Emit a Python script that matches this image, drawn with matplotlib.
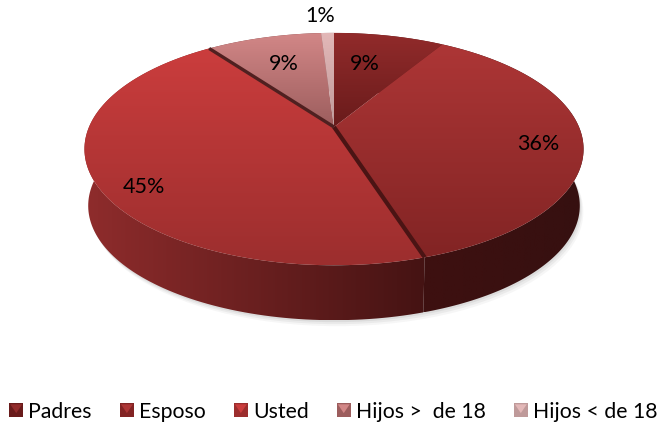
import numpy as np
import matplotlib
matplotlib.use('Agg')
import matplotlib.pyplot as plt
from matplotlib.colors import LinearSegmentedColormap
from matplotlib.legend_handler import HandlerBase
from matplotlib.patches import Polygon, Rectangle

plt.rcParams['font.family'] = ['Lato', 'DejaVu Sans']

categories = ['Padres', 'Esposo', 'Usted', 'Hijos >  de 18', 'Hijos < de 18']
# shares as they look in the picture; the printed labels are the rounded ones
share = [8.6, 36.5, 44.9, 9, 1]
percent_labels = ['9%', '36%', '45%', '9%', '1%']

top_light = ['#922b2b', '#ad3636', '#cb3d3d', '#d28787', '#e3b8b8']
top_dark = ['#691b1b', '#822424', '#9c2e2e', '#9c5d5d', '#bf9a9a']
side_left = ['#5a1a1a', '#3e1010', '#8f2c2c', '#7a4040', '#8a6060']
side_right = ['#5a1a1a', '#361010', '#451313', '#7a4040', '#8a6060']
label_pos = [(365, 64), (538, 144), (144, 187), (284, 64), (320, 16)]

# perspective of the tilted disc, in pixels
cx, cy = 334, 127
a, b, k = 245, 112, 0.19
depth, shrink = 57, 0.985


def rim(frac0, frac1, scale=1.0, dy=0):
    ang = np.radians(np.linspace(frac0, frac1, 120) * 3.6)
    u, v = np.sin(ang), np.cos(ang)
    w = 1 + k * v
    return np.column_stack([cx + scale * a * u / w, cy + dy - scale * b * v / w])


def gradient(ax, clip, c0, c1, vertical, zorder):
    xy = clip.get_xy()
    x0, x1, y0, y1 = xy[:, 0].min(), xy[:, 0].max(), xy[:, 1].min(), xy[:, 1].max()
    cmap = LinearSegmentedColormap.from_list('g', [c0, c1])
    ramp = np.linspace(0, 1, 256)
    ramp = ramp.reshape(-1, 1) if vertical else ramp.reshape(1, -1)
    ax.add_patch(clip)
    clip.set(facecolor='none', edgecolor='none', zorder=zorder)
    im = ax.imshow(ramp, cmap=cmap, extent=(x0, x1, y1, y0), aspect='auto',
                   origin='upper', zorder=zorder, interpolation='bilinear')
    im.set_clip_path(clip)


class BevelHandler(HandlerBase):
    def create_artists(self, legend, orig, xd, yd, width, height, fontsize, trans):
        s = height * 1.0
        x0 = xd * -1 + (width - s) / 2
        y0 = -yd
        box = Rectangle((x0, y0), s, s, facecolor=orig.get_facecolor(), edgecolor='none', transform=trans)
        tri = Polygon([(x0 + s * .08, y0 + s * .92), (x0 + s * .92, y0 + s * .92), (x0 + s * .5, y0 + s * .3)],
                      facecolor=orig.get_edgecolor(), edgecolor='none', transform=trans)
        return [box, tri]


fig = plt.figure(figsize=(6.66, 4.23), dpi=100)
ax = fig.add_axes([0, 0, 1, 1])

edges = np.concatenate([[0], np.cumsum(share)])

# soft shadow below the disc
for grow, alpha in [(6, .05), (4, .07), (2, .09)]:
    shadow = np.vstack([rim(0, 100, shrink, depth + grow)])
    ax.add_patch(Polygon(shadow + [grow * .6, 0], facecolor='#555555', edgecolor='none', alpha=alpha, zorder=1))

# side walls
for i in [3, 4, 0, 2, 1]:
    top = rim(edges[i], edges[i + 1])
    bottom = rim(edges[i], edges[i + 1], shrink, depth)
    wall = Polygon(np.vstack([top, bottom[::-1]]))
    gradient(ax, wall, side_left[i], side_right[i], False, 2)

# top faces
for i in range(len(share)):
    poly = Polygon(np.vstack([[cx, cy], rim(edges[i], edges[i + 1])]))
    gradient(ax, poly, top_light[i], top_dark[i], True, 3)

# dark separators around the biggest slice
for frac, lw, col in [(edges[2], 3.0, '#4a1414'), (edges[3], 2.4, '#4f2020')]:
    end = rim(frac, frac)[0]
    ax.plot([cx, end[0]], [cy, end[1]], color=col, lw=lw, solid_capstyle='butt', zorder=4)

for txt, (x, y) in zip(percent_labels, label_pos):
    ax.text(x, y, txt, fontsize=15.5, color='black', ha='center', va='center', zorder=5)

ax.set_xlim(0, 666)
ax.set_ylim(423, 0)
ax.axis('off')

handles = []
for i in range(len(categories)):
    handles.append(Rectangle((0, 0), 1, 1, facecolor=top_dark[i], edgecolor=top_light[i], label=categories[i]))
leg = ax.legend(handles=handles, ncol=5, frameon=False, loc='lower left', bbox_to_anchor=(0.014, 0.003),
                bbox_transform=ax.transAxes, borderaxespad=0, borderpad=0, fontsize=15.3,
                handlelength=0.65, handleheight=0.65, handletextpad=0.25, columnspacing=1.32,
                handler_map={Rectangle: BevelHandler()})

fig.savefig('out.png', dpi=100)
